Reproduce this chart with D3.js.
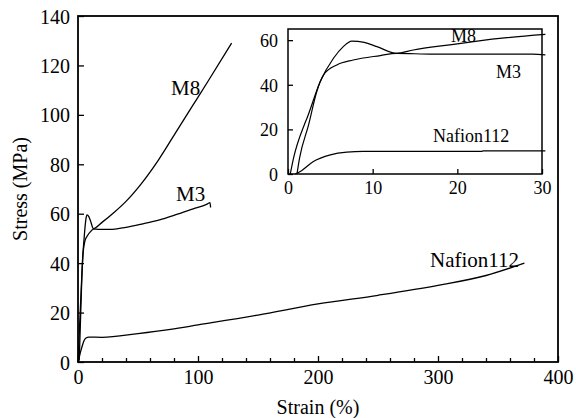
<!DOCTYPE html>
<html>
<head>
<meta charset="utf-8">
<script src="https://cdn.jsdelivr.net/npm/d3@7"></script>
<style>
  body { margin: 0; background: #fff; }
</style>
</head>
<body>
<svg id="chart" width="576" height="418"></svg>
<script>
const FONT = "'Liberation Serif', 'Times New Roman', Times, serif";

// Main plot curves: [strain %, stress MPa]
const m8Main = [[0,0],[0.3,1],[0.7,7],[2,22],[3,33],[3.8,41],[5.4,52],[6.5,57.5],[7.5,59.5],[9,58.8],
  [10.5,57],[12.8,54],[20,56.5],[30,60.5],[40,65],[53,72.3],[67,81.7],[81,92.5],[95,103.3],[109,114.1],[128,129]];
const m3Main = [[0,0],[1.06,1],[1.45,7],[2.4,22],[3.4,37],[4.2,44],[5.8,49],[7.7,51],[10.9,53],[12.8,53.8],
  [17,53.7],[29,53.7],[40,54.5],[53,55.8],[68,57.5],[81,59.5],[96,62],[108,64],[110,64.5],[110.5,62.5]];
const nafionMain = [[0,0],[1,2],[3,5.6],[5,8.6],[7,9.8],[9,10.1],[20,10],[50,11.5],[77,13.2],[100,15],
  [150,19],[200,23.5],[250,27],[300,31],[340,35],[372,40]];

// Inset curves (0-30 % strain)
const m8Inset = [[0.27,0],[0.66,7.2],[1.92,22],[2.24,25],[3.8,41.4],[5.37,51.9],[6.5,57],[7.54,59.6],[9,59],
  [10.5,57.1],[12.84,54.1],[14.8,55.6],[19.1,57.9],[25,60.8],[30.4,62.6]];
const m3Inset = [[1.06,0],[1.37,7.2],[2.43,22],[3.4,37],[4.2,44.4],[5.77,48.9],[7.7,51.1],[10.9,53.1],
  [12.8,54.1],[17.2,53.7],[28.9,53.7],[30.4,53.4]];
const nafionInset = [[0.86,0],[1.6,1.5],[3,5.6],[5,8.6],[6.95,9.8],[8.9,10.1],[22.9,10.1],[23,10.4],[30.4,10.4]];

const mainXTicks = [0, 100, 200, 300, 400];
const mainXMinor = d3.range(20, 400, 20);
const mainYTicks = [0, 20, 40, 60, 80, 100, 120, 140];
const insetXTicks = [0, 10, 20, 30];
const insetYTicks = [0, 20, 40, 60];

const svg = d3.select('#chart');

// ── Main plot ─────────────────────────────
const M = { left: 78, right: 558, top: 16, bottom: 362 };
const x = d3.scaleLinear().domain([0, 400]).range([M.left, M.right]);
const y = d3.scaleLinear().domain([0, 140]).range([M.bottom, M.top]);

const line = d3.line().x(d => x(d[0])).y(d => y(d[1])).curve(d3.curveMonotoneX);

function styleAxis(g, size) {
  g.attr('font-family', FONT).attr('font-size', size);
  g.select('.domain').remove();
  g.selectAll('line').attr('stroke', '#000').attr('stroke-width', 1.3);
  g.selectAll('text').attr('fill', '#000');
}

// x ticks (inward)
svg.append('g').attr('transform', `translate(0,${M.bottom})`)
  .call(d3.axisBottom(x).tickValues(mainXMinor.filter(v => v % 100 !== 0)).tickSize(-4).tickFormat(''))
  .call(g => styleAxis(g, 20));
svg.append('g').attr('transform', `translate(0,${M.bottom})`)
  .call(d3.axisBottom(x).tickValues(mainXTicks).tickSize(-6).tickPadding(22))
  .call(g => styleAxis(g, 20))
  .call(g => g.selectAll('text').attr('dy', 0));

svg.append('g').attr('transform', `translate(${M.left},0)`)
  .call(d3.axisLeft(y).tickValues(mainYTicks).tickSize(-6).tickPadding(8))
  .call(g => styleAxis(g, 20))
  .call(g => g.selectAll('text').attr('dy', '0.35em'));

svg.append('rect')
  .attr('x', M.left).attr('y', M.top)
  .attr('width', M.right - M.left).attr('height', M.bottom - M.top)
  .attr('fill', 'none').attr('stroke', '#000').attr('stroke-width', 1.8);

// axis titles
svg.append('text').attr('x', (M.left + M.right) / 2).attr('y', 414)
  .attr('font-family', FONT).attr('text-anchor', 'middle').attr('font-size', 20).text('Strain (%)');
svg.append('text').attr('transform', `translate(27,${(M.top + M.bottom) / 2}) rotate(-90)`)
  .attr('font-family', FONT).attr('text-anchor', 'middle').attr('font-size', 20).text('Stress (MPa)');

[m8Main, m3Main, nafionMain].forEach(d => {
  svg.append('path').datum(d).attr('d', line)
    .attr('fill', 'none').attr('stroke', '#000').attr('stroke-width', 1.3);
});

const mainLabels = [
  { t: 'M8', x: 171, y: 95 },
  { t: 'M3', x: 176, y: 201 },
  { t: 'Nafion112', x: 430, y: 267 }
];
svg.selectAll('.mlab').data(mainLabels).enter().append('text')
  .attr('font-family', FONT)
  .attr('x', d => d.x).attr('y', d => d.y).attr('font-size', 21).text(d => d.t);

// ── Inset ─────────────────────────────────
const I = { left: 288, right: 542, top: 29, bottom: 174 };
const xi = d3.scaleLinear().domain([0, 30]).range([I.left, I.right]);
const yi = d3.scaleLinear().domain([0, 65]).range([I.bottom, I.top]);
const lineI = d3.line().x(d => xi(d[0])).y(d => yi(d[1])).curve(d3.curveMonotoneX);

svg.append('g').attr('transform', `translate(0,${I.bottom})`)
  .call(d3.axisBottom(xi).tickValues(insetXTicks).tickSize(-5).tickPadding(20))
  .call(g => styleAxis(g, 18))
  .call(g => g.selectAll('text').attr('dy', 0));

svg.append('g').attr('transform', `translate(${I.left},0)`)
  .call(d3.axisLeft(yi).tickValues(insetYTicks).tickSize(-5).tickPadding(10))
  .call(g => styleAxis(g, 18))
  .call(g => g.selectAll('text').attr('dy', '0.35em'));

svg.append('rect')
  .attr('x', I.left).attr('y', I.top)
  .attr('width', I.right - I.left).attr('height', I.bottom - I.top)
  .attr('fill', 'none').attr('stroke', '#000').attr('stroke-width', 1.5);

[m8Inset, m3Inset, nafionInset].forEach(d => {
  svg.append('path').datum(d).attr('d', lineI)
    .attr('fill', 'none').attr('stroke', '#000').attr('stroke-width', 1.2);
});

const insetLabels = [
  { t: 'M8', x: 451, y: 42 },
  { t: 'M3', x: 496, y: 78 },
  { t: 'Nafion112', x: 433, y: 142 }
];
svg.selectAll('.ilab').data(insetLabels).enter().append('text')
  .attr('font-family', FONT)
  .attr('x', d => d.x).attr('y', d => d.y).attr('font-size', 18).text(d => d.t);
</script>
</body>
</html>
